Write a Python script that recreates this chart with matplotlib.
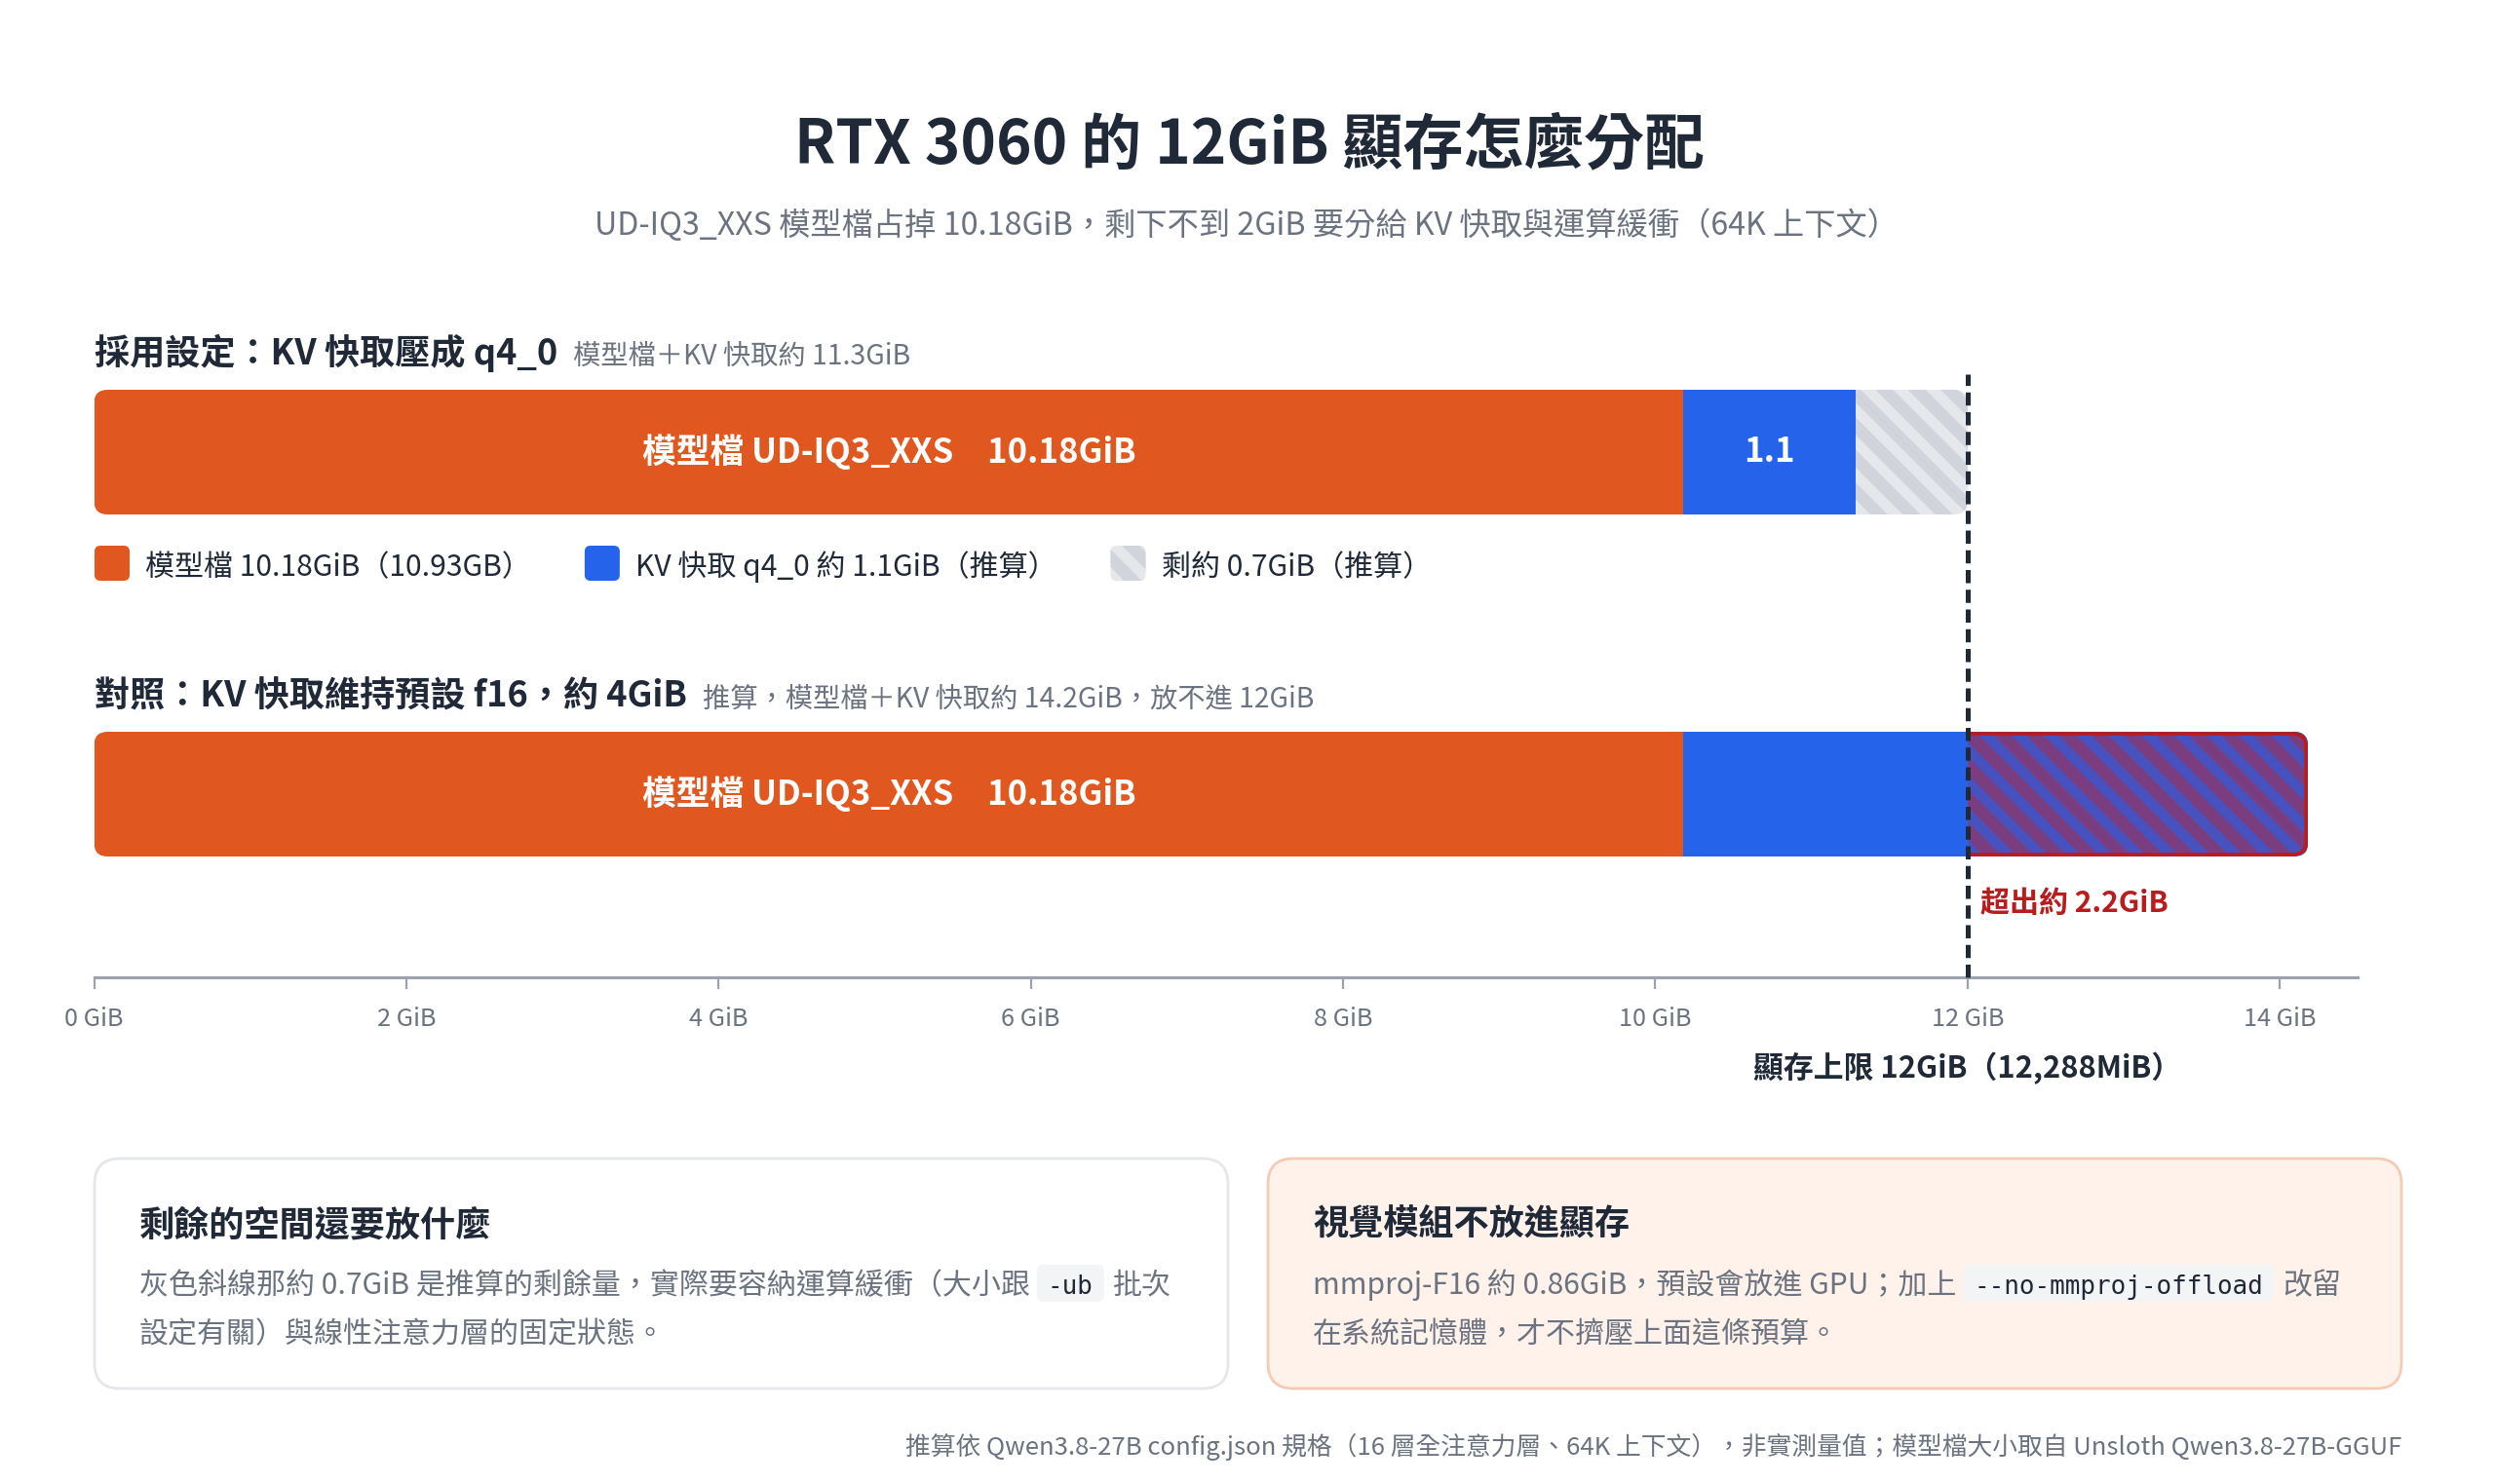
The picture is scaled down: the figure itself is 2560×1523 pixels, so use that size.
import matplotlib
matplotlib.use("Agg")
import matplotlib.pyplot as plt
from matplotlib.patches import FancyBboxPatch, Rectangle

# ---- data ----
VRAM_GIB = 12.0
VRAM_MIB = 12288
MODEL_GIB = 10.18
MODEL_GB = 10.93
KV_Q4_GIB = 1.1
KV_F16_GIB = 4.0
X_TICKS = [0, 2, 4, 6, 8, 10, 12, 14]
X_MAX = 14.5
ROW_NAMES = ["q4_0", "f16"]

q4_total = MODEL_GIB + KV_Q4_GIB
q4_left = VRAM_GIB - q4_total
f16_total = MODEL_GIB + KV_F16_GIB
f16_over = f16_total - VRAM_GIB

# ---- style ----
W, H, DPI = 2560, 1523, 200
CJK = ["Noto Sans CJK TC", "DejaVu Sans"]
MONO = ["DejaVu Sans Mono"]
DARK = "#1f2937"
GREY = "#6b7280"
ORANGE = "#e0581f"
BLUE = "#2563eb"
RED = "#b91c1c"
LIGHT = "#e5e7eb"
LIGHT_STRIPE = "#d1d5db"
OVER_BASE = "#4852be"
OVER_STRIPE = "#7a3e80"
HATCH = "\\\\"

plt.rcParams["font.family"] = CJK
plt.rcParams["hatch.linewidth"] = 4.6

fig = plt.figure(figsize=(W / DPI, H / DPI), dpi=DPI)
fig.patch.set_facecolor("white")
renderer = fig.canvas.get_renderer()

# background axes in pixel coordinates for free text / cards
bg = fig.add_axes([0, 0, 1, 1], zorder=0)
bg.set_xlim(0, W)
bg.set_ylim(H, 0)
bg.axis("off")


def text_width(t):
    return t.get_window_extent(renderer=renderer).width


def runs(x, y, items, gap=0):
    """Draw text runs one after another on a shared baseline."""
    for txt, kw in items:
        kw = dict(kw)
        is_code = kw.pop("code", False)
        if is_code:
            pad = 11
            t = bg.text(x + 7 + pad, y, txt, va="baseline", ha="left",
                        family=MONO, **kw)
            w = text_width(t)
            bg.add_patch(FancyBboxPatch((x + 7, y - 30), w + 2 * pad, 38,
                                        boxstyle="round,pad=0,rounding_size=6",
                                        fc="#f3f4f6", ec="none", zorder=2))
            x += 7 + w + 2 * pad + 9
        else:
            t = bg.text(x, y, txt, va="baseline", ha="left", **kw)
            x += text_width(t) + gap
    return x


# title
bg.text(1282, 149, "RTX 3060 的 12GiB 顯存怎麼分配", ha="center", va="center",
        fontsize=22.3, fontweight=900, color=DARK)
bg.text(1279, 231,
        f"UD-IQ3_XXS 模型檔占掉 {MODEL_GIB}GiB，剩下不到 2GiB 要分給 KV 快取與運算緩衝（64K 上下文）",
        ha="center", va="center", fontsize=11.6, color=GREY)

# section headers
runs(97, 374, [("採用設定：KV 快取壓成 q4_0", dict(fontsize=13, fontweight="bold", color=DARK)),
               (f"模型檔＋KV 快取約 {q4_total:.1f}GiB", dict(fontsize=10.2, color=GREY))], gap=16)
runs(97, 726, [("對照：KV 快取維持預設 f16，約 4GiB", dict(fontsize=13, fontweight="bold", color=DARK)),
               (f"推算，模型檔＋KV 快取約 {f16_total:.1f}GiB，放不進 {VRAM_GIB:.0f}GiB",
                dict(fontsize=10.2, color=GREY))], gap=16)

# legend
legend_items = [
    (dict(fc=ORANGE), f"模型檔 {MODEL_GIB}GiB（{MODEL_GB}GB）"),
    (dict(fc=BLUE), f"KV 快取 {ROW_NAMES[0]} 約 {KV_Q4_GIB}GiB（推算）"),
    (dict(fc=LIGHT, ec=LIGHT_STRIPE, hatch=HATCH, lw=0), f"剩約 {q4_left:.1f}GiB（推算）"),
]
lx = 97
for style, label in legend_items:
    style.setdefault("ec", "none")
    bg.add_patch(FancyBboxPatch((lx, 560), 36, 36, boxstyle="round,pad=0,rounding_size=6", **style))
    t = bg.text(lx + 52, 591, label, va="baseline", ha="left", fontsize=10.8, color=DARK)
    lx += 52 + text_width(t) + 55

# cards
cards = [
    dict(x=97, fc="white", ec="#e5e7eb", title="剩餘的空間還要放什麼",
         line1=[("灰色斜線那約 0.7GiB 是推算的剩餘量，實際要容納運算緩衝（大小跟", {}),
                ("-ub", dict(code=True)), ("批次", {})],
         line2="設定有關）與線性注意力層的固定狀態。"),
    dict(x=1301, fc="#fff2eb", ec="#f3cbb5", title="視覺模組不放進顯存",
         line1=[("mmproj-F16 約 0.86GiB，預設會放進 GPU；加上", {}),
                ("--no-mmproj-offload", dict(code=True)), ("改留", {})],
         line2="在系統記憶體，才不擠壓上面這條預算。"),
]
for c in cards:
    bg.add_patch(FancyBboxPatch((c["x"], 1189), 1163, 236,
                                boxstyle="round,pad=0,rounding_size=26",
                                fc=c["fc"], ec=c["ec"], lw=1.0, zorder=1))
    tx = c["x"] + 46
    bg.text(tx, 1268, c["title"], va="baseline", ha="left", fontsize=13,
            fontweight="bold", color=DARK, zorder=3)
    items = []
    for txt, kw in c["line1"]:
        kw = dict(kw)
        kw.setdefault("fontsize", 9.3 if kw.get("code") else 10.8)
        kw.setdefault("color", DARK if kw.get("code") else GREY)
        kw["zorder"] = 3
        items.append((txt, kw))
    runs(tx, 1328, items)
    bg.text(tx, 1378, c["line2"], va="baseline", ha="left", fontsize=10.8,
            color=GREY, zorder=3)

bg.text(2464, 1485,
        "推算依 Qwen3.8-27B config.json 規格（16 層全注意力層、64K 上下文），非實測量值；模型檔大小取自 Unsloth Qwen3.8-27B-GGUF",
        ha="right", va="center", fontsize=9.27, color=GREY)

# ---- main bar axes ----
PX_X = 160.2          # pixels per GiB
PX_Y = 351.0          # pixels per row
left_px, top_px, axis_px = 96.5, 370, 1003
row_px = [464, 815]
ax = fig.add_axes([left_px / W, (H - axis_px) / H, X_MAX * PX_X / W, (axis_px - top_px) / H],
                  zorder=1)
ax.set_facecolor("none")
ax.set_xlim(0, X_MAX)
ax.set_ylim((axis_px - row_px[0]) / PX_Y, (top_px - row_px[0]) / PX_Y)
bar_h = 128 / PX_Y
aspect = PX_X / PX_Y
r_data = 14 / PX_X


def rounded(x0, width, yc, h=bar_h, **kw):
    p = FancyBboxPatch((x0, yc - h / 2), width, h,
                       boxstyle=f"round,pad=0,rounding_size={r_data}",
                       mutation_aspect=aspect, transform=ax.transData, **kw)
    return p


# row 0: q4_0
y0 = 0
clip0 = rounded(0, VRAM_GIB, y0)
segs0 = [
    ax.barh(y0, MODEL_GIB, left=0, height=bar_h, color=ORANGE, lw=0),
    ax.barh(y0, KV_Q4_GIB, left=MODEL_GIB, height=bar_h, color=BLUE, lw=0),
    ax.barh(y0, q4_left, left=q4_total, height=bar_h, color=LIGHT,
            edgecolor=LIGHT_STRIPE, hatch=HATCH, lw=0),
]
for s in segs0:
    for p in s:
        p.set_clip_path(clip0)

# row 1: f16
y1 = 1
clip1 = rounded(0, f16_total, y1)
segs1 = [
    ax.barh(y1, MODEL_GIB, left=0, height=bar_h, color=ORANGE, lw=0),
    ax.barh(y1, VRAM_GIB - MODEL_GIB, left=MODEL_GIB, height=bar_h, color=BLUE, lw=0),
    ax.barh(y1, f16_over, left=VRAM_GIB, height=bar_h, color=OVER_BASE,
            edgecolor=OVER_STRIPE, hatch=HATCH, lw=0),
]
for s in segs1:
    for p in s:
        p.set_clip_path(clip1)

inset_x, inset_y = 2 / PX_X, 2 / PX_Y
border = rounded(VRAM_GIB - 0.5, f16_total - VRAM_GIB + 0.5 - inset_x, y1,
                 h=bar_h - 2 * inset_y, fc="none", ec=RED, lw=1.3, zorder=3)
ax.add_patch(border)
border.set_clip_path(Rectangle((VRAM_GIB, -1), 5, 4, transform=ax.transData))

# bar labels
model_label = f"模型檔 UD-IQ3_XXS\u3000{MODEL_GIB}GiB"
for yc in (y0, y1):
    ax.text(MODEL_GIB / 2, yc, model_label, ha="center", va="center",
            fontsize=12.5, fontweight="bold", color="white")
ax.text(MODEL_GIB + KV_Q4_GIB / 2, y0, f"{KV_Q4_GIB}", ha="center", va="center",
        fontsize=12.5, fontweight="bold", color="white")
ax.text(VRAM_GIB + 13 / PX_X, (927 - row_px[0]) / PX_Y, f"超出約 {f16_over:.1f}GiB",
        ha="left", va="center", fontsize=10.8, fontweight="bold", color=RED)

# VRAM limit line
ax.axvline(VRAM_GIB, ymin=0, ymax=(axis_px - 384) / (axis_px - top_px), color=DARK,
           lw=1.8, dashes=(2.7, 1.35), zorder=4, clip_on=False)
ax.text(VRAM_GIB, -(1097 - axis_px) / (axis_px - top_px),
        f"顯存上限 {VRAM_GIB:.0f}GiB（{VRAM_MIB:,}MiB）",
        transform=ax.get_xaxis_transform(), ha="center", va="center",
        fontsize=11.1, fontweight="bold", color=DARK)

# axis styling
for side in ("top", "left", "right"):
    ax.spines[side].set_visible(False)
ax.spines["bottom"].set_color("#9ca3af")
ax.spines["bottom"].set_linewidth(1.1)
ax.set_yticks([])
ax.set_xticks(X_TICKS)
ax.set_xticklabels([f"{t} GiB" for t in X_TICKS])
ax.tick_params(axis="x", length=4.3, width=0.8, color="#9ca3af", labelcolor=GREY,
               labelsize=9.1, pad=6.5)

fig.savefig("out.png", dpi=DPI, facecolor="white")
